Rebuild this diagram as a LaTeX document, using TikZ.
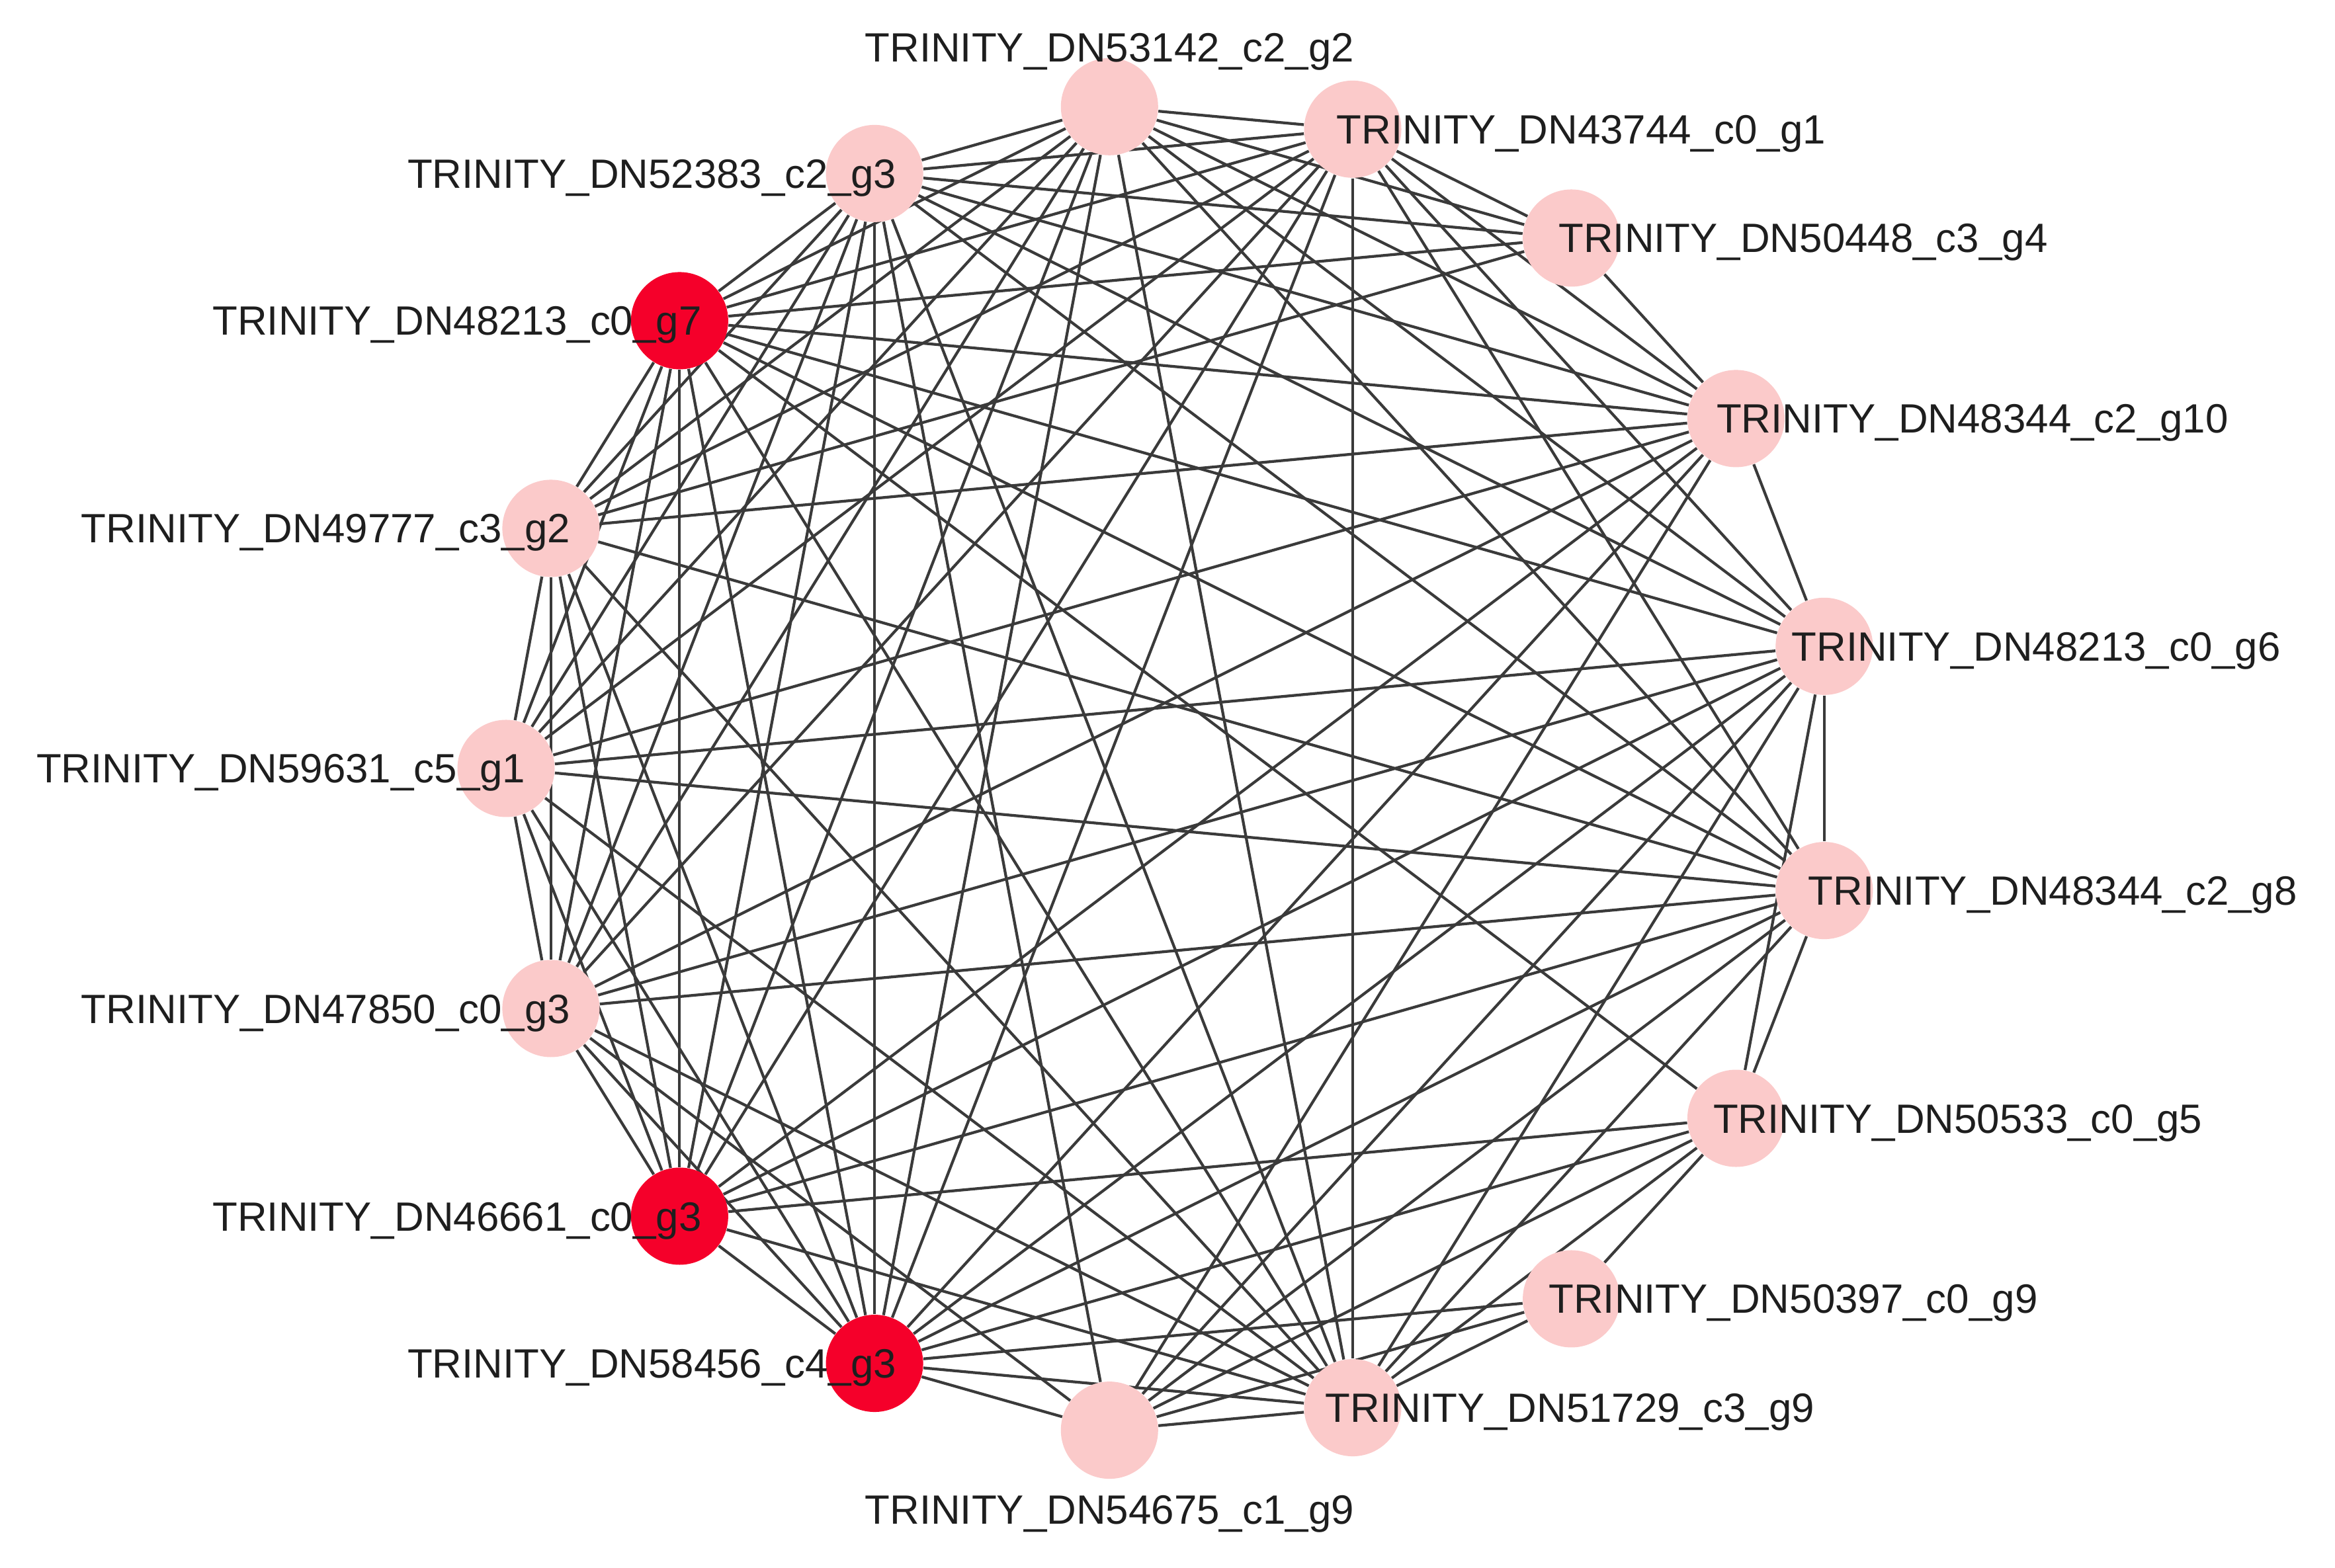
\documentclass[tikz,border=0pt]{standalone}
\usepackage{fontspec}
\setmainfont{Liberation Sans}
\usetikzlibrary{backgrounds}
\definecolor{pinkn}{RGB}{251,202,202}
\definecolor{redn}{RGB}{245,0,42}
\definecolor{edgec}{RGB}{58,58,58}
\definecolor{txt}{RGB}{30,30,30}
\begin{document}
\begin{tikzpicture}[
  gnode/.style={circle, minimum size=1.47cm, inner sep=0pt, draw=none},
  pinknode/.style={gnode, fill=pinkn},
  rednode/.style={gnode, fill=redn},
  edge/.style={draw=edgec, line width=1.2pt},
  lbl/.style={font=\fontsize{17.6}{20}\selectfont, text=txt, inner sep=0pt}]
\useasboundingbox (0,0) rectangle (35.30,23.71);
\coordinate (O) at (17.70,12.09);
% nodes on a regular 17-gon
\node[pinknode] (n0)  at ([shift={(180:10.05)}]O) {};
\node[pinknode] (n1)  at ([shift={(158.8235:10.05)}]O) {};
\node[rednode]  (n2)  at ([shift={(137.6471:10.05)}]O) {};
\node[pinknode] (n3)  at ([shift={(116.4706:10.05)}]O) {};
\node[pinknode] (n4)  at ([shift={(95.2941:10.05)}]O) {};
\node[pinknode] (n5)  at ([shift={(74.1176:10.05)}]O) {};
\node[pinknode] (n6)  at ([shift={(52.9412:10.05)}]O) {};
\node[pinknode] (n7)  at ([shift={(31.7647:10.05)}]O) {};
\node[pinknode] (n8)  at ([shift={(10.5882:10.05)}]O) {};
\node[pinknode] (n9)  at ([shift={(-10.5882:10.05)}]O) {};
\node[pinknode] (n10) at ([shift={(-31.7647:10.05)}]O) {};
\node[pinknode] (n11) at ([shift={(-52.9412:10.05)}]O) {};
\node[pinknode] (n12) at ([shift={(-74.1176:10.05)}]O) {};
\node[pinknode] (n13) at ([shift={(-95.2941:10.05)}]O) {};
\node[rednode]  (n14) at ([shift={(-116.4706:10.05)}]O) {};
\node[rednode]  (n15) at ([shift={(-137.6471:10.05)}]O) {};
\node[pinknode] (n16) at ([shift={(-158.8235:10.05)}]O) {};
% edges
\begin{pgfonlayer}{background}
\foreach \a/\b in {0/1,0/2,0/3,0/4,0/5,0/7,0/8,0/9,0/12,0/14,0/15,0/16,
  1/2,1/3,1/4,1/5,1/6,1/7,1/9,1/12,1/14,1/15,1/16,
  2/3,2/4,2/5,2/6,2/7,2/8,2/9,2/10,2/12,2/14,2/15,2/16,
  3/4,3/5,3/6,3/7,3/8,3/9,3/12,3/13,3/14,3/15,3/16,
  4/5,4/6,4/7,4/8,4/9,4/12,4/14,4/15,4/16,
  5/6,5/7,5/8,5/9,5/12,5/14,5/15,5/16,
  6/7,
  7/8,7/13,7/14,7/15,7/16,
  8/9,8/10,8/12,8/13,8/14,8/15,8/16,
  9/10,9/12,9/13,9/14,9/15,9/16,
  10/11,10/12,10/13,10/14,10/15,
  11/12,11/13,11/14,
  12/13,12/14,12/15,12/16,
  13/14,13/16,
  14/15,14/16,
  15/16}
  \draw[edge] (n\a) -- (n\b);
\end{pgfonlayer}
% labels
\node[lbl, anchor=base east] (l0)  at ([xshift=0.30cm,yshift=-0.22cm]n0.center) {TRINITY\_DN59631\_c5\_g1};
\node[lbl, anchor=base east] (l1)  at ([xshift=0.30cm,yshift=-0.22cm]n1.center) {TRINITY\_DN49777\_c3\_g2};
\node[lbl, anchor=base east] (l2)  at ([xshift=0.34cm,yshift=-0.22cm]n2.center) {TRINITY\_DN48213\_c0\_g7};
\node[lbl, anchor=base east] (l3)  at ([xshift=0.34cm,yshift=-0.22cm]n3.center) {TRINITY\_DN52383\_c2\_g3};
\node[lbl, anchor=base]      (l4)  at ([yshift=0.68cm]n4.center) {TRINITY\_DN53142\_c2\_g2};
\node[lbl, anchor=base west] (l5)  at ([xshift=-0.25cm,yshift=-0.22cm]n5.center) {TRINITY\_DN43744\_c0\_g1};
\node[lbl, anchor=base west] (l6)  at ([xshift=-0.20cm,yshift=-0.22cm]n6.center) {TRINITY\_DN50448\_c3\_g4};
\node[lbl, anchor=base west] (l7)  at ([xshift=-0.30cm,yshift=-0.22cm]n7.center) {TRINITY\_DN48344\_c2\_g10};
\node[lbl, anchor=base west] (l8)  at ([xshift=-0.50cm,yshift=-0.22cm]n8.center) {TRINITY\_DN48213\_c0\_g6};
\node[lbl, anchor=base west] (l9)  at ([xshift=-0.25cm,yshift=-0.22cm]n9.center) {TRINITY\_DN48344\_c2\_g8};
\node[lbl, anchor=base west] (l10) at ([xshift=-0.35cm,yshift=-0.22cm]n10.center) {TRINITY\_DN50533\_c0\_g5};
\node[lbl, anchor=base west] (l11) at ([xshift=-0.35cm,yshift=-0.22cm]n11.center) {TRINITY\_DN50397\_c0\_g9};
\node[lbl, anchor=base west] (l12) at ([xshift=-0.42cm,yshift=-0.22cm]n12.center) {TRINITY\_DN51729\_c3\_g9};
\node[lbl, anchor=base]      (l13) at ([yshift=-1.42cm]n13.center) {TRINITY\_DN54675\_c1\_g9};
\node[lbl, anchor=base east] (l14) at ([xshift=0.34cm,yshift=-0.22cm]n14.center) {TRINITY\_DN58456\_c4\_g3};
\node[lbl, anchor=base east] (l15) at ([xshift=0.34cm,yshift=-0.22cm]n15.center) {TRINITY\_DN46661\_c0\_g3};
\node[lbl, anchor=base east] (l16) at ([xshift=0.30cm,yshift=-0.22cm]n16.center) {TRINITY\_DN47850\_c0\_g3};
\end{tikzpicture}
\end{document}
